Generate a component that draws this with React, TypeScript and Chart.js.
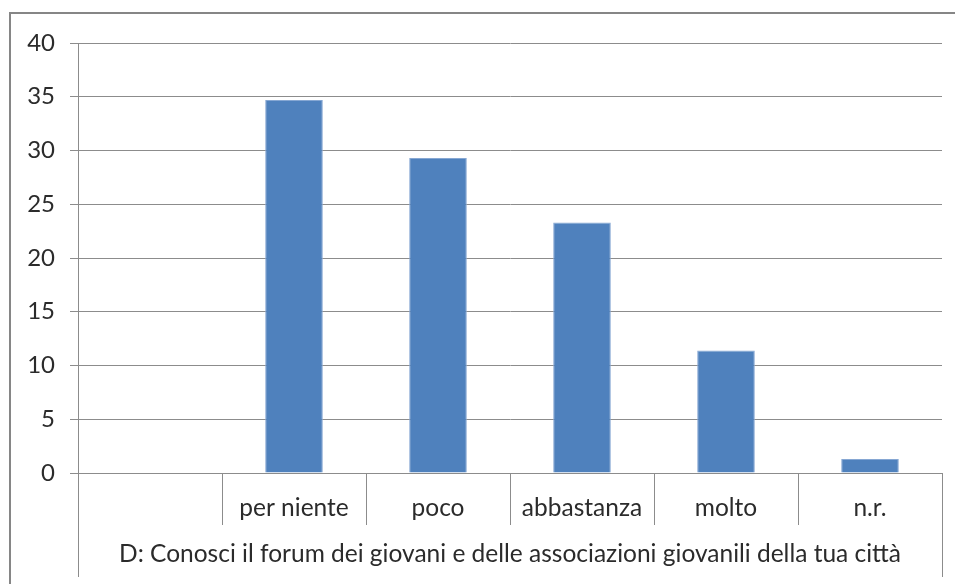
import React, { useEffect, useRef } from 'react';
import { Chart, registerables } from 'chart.js';

Chart.register(...registerables);

const categories: string[] = ['', 'per niente', 'poco', 'abbastanza', 'molto', 'n.r.'];
const values: (number | null)[] = [null, 34.7, 29.3, 23.3, 11.4, 1.3];
const groupLabel = 'D: Conosci il forum dei giovani e delle associazioni giovanili della tua città';
const yMin = 0;
const yMax = 40;
const yStep = 5;

const GRID = '#8c8c8c';
const TEXT = '#2b2b2b';
const BAR = '#4f81bd';
const FONT = 'Lato';

const frameAndSeparators = {
  id: 'frameAndSeparators',
  afterDraw(chart: any) {
    const { ctx, chartArea } = chart;
    const x = chart.scales.x;
    const n = categories.length;
    ctx.save();
    ctx.strokeStyle = '#868686';
    ctx.lineWidth = 2;
    ctx.beginPath();
    ctx.moveTo(10, chart.height);
    ctx.lineTo(10, 13);
    ctx.lineTo(chart.width, 13);
    ctx.stroke();
    ctx.strokeStyle = GRID;
    ctx.lineWidth = 1;
    const zero = chartArea.bottom;
    for (let i = 0; i <= n; i++) {
      let px: number;
      if (i === 0) px = x.left;
      else if (i === n) px = x.right;
      else px = (x.getPixelForValue(i - 1) + x.getPixelForValue(i)) / 2;
      const long = i === 0 || i === n;
      const xx = Math.round(px) + 0.5;
      ctx.beginPath();
      ctx.moveTo(xx, zero);
      ctx.lineTo(xx, zero + (long ? 104 : 52));
      ctx.stroke();
    }
    ctx.restore();
  },
};

export default function App() {
  const ref = useRef<HTMLCanvasElement | null>(null);
  useEffect(() => {
    if (!ref.current) return;
    const chart = new Chart(ref.current, {
      type: 'bar',
      data: {
        labels: categories,
        datasets: [
          {
            data: values,
            backgroundColor: BAR,
            borderColor: '#86a7d3',
            borderWidth: 1,
            barPercentage: 0.4,
            categoryPercentage: 1,
          },
        ],
      },
      options: {
        animation: false,
        responsive: false,
        layout: { padding: { left: 0, top: 43, right: 13, bottom: 0 } },
        plugins: { legend: { display: false }, tooltip: { enabled: false } },
        scales: {
          x: {
            offset: true,
            grid: { display: false, drawTicks: false },
            border: { display: true, color: GRID },
            ticks: {
              color: TEXT,
              font: { family: FONT, size: 24.5 },
              padding: 20,
              maxRotation: 0,
              autoSkip: false,
            },
            title: {
              display: true,
              text: groupLabel,
              color: TEXT,
              font: { family: FONT, size: 24.5 },
              padding: { top: 0, bottom: 15 },
            },
            afterFit: (s: any) => {
              s.height = 111;
            },
          },
          y: {
            min: yMin,
            max: yMax,
            ticks: {
              stepSize: yStep,
              color: TEXT,
              font: { family: FONT, size: 24 },
              padding: 15,
            },
            grid: { color: GRID, tickLength: 8, drawTicks: true },
            border: { display: true, color: GRID },
            afterFit: (s: any) => {
              s.width = 78;
            },
          },
        },
      },
      plugins: [frameAndSeparators],
    });
    return () => chart.destroy();
  }, []);
  return (
    <div style={{ position: 'absolute', left: 0, top: 0, width: 955, height: 584, background: '#fff' }}>
      <canvas ref={ref} width={955} height={584} style={{ display: 'block' }} />
    </div>
  );
}
